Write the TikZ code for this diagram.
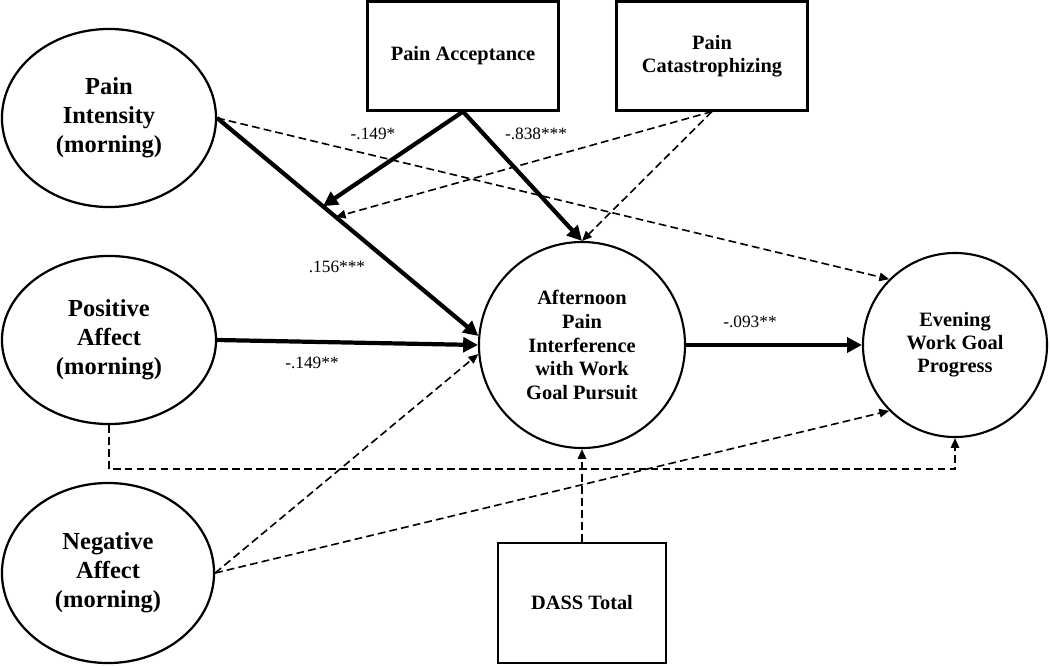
\documentclass[tikz,border=0pt]{standalone}
\usepackage{fontspec}
\setmainfont{Liberation Serif}
\usetikzlibrary{shapes.geometric,arrows.meta}

\tikzset{
  big/.style={font=\fontsize{17.4}{20.6}\selectfont\bfseries, align=center},
  mid/.style={font=\fontsize{14.5}{16.8}\selectfont\bfseries, align=center},
  oval/.style={ellipse, draw, line width=1.6pt, inner sep=0pt, minimum width=5.35cm, big},
  ring/.style={circle, draw, line width=1.5pt, inner sep=0pt, mid},
  box/.style={rectangle, draw, line width=1.5pt, inner sep=0pt, mid},
  coef/.style={font=\fontsize{12.3}{14}\selectfont, inner sep=1pt},
  strong/.style={line width=3pt, -{Triangle[length=10.5pt,width=10.5pt]}},
  weak/.style={line width=1.15pt, dash pattern=on 5.5pt off 3pt, -{Triangle[length=7pt,width=6pt]}}
}

\begin{document}
\begin{tikzpicture}[x=0.025cm, y=-0.025cm]
\useasboundingbox (0,0) rectangle (1050,665);

% predictors on the left
\node[oval, minimum height=4.45cm] (pint) at (109,118) {Pain\\Intensity\\(morning)};
\node[oval, minimum height=4.2cm] (posaff) at (109,340) {Positive\\Affect\\(morning)};
\node[oval, minimum height=4.5cm, minimum width=5.3cm] (negaff) at (108,573) {Negative\\Affect\\(morning)};

% moderators
\node[box, minimum width=4.775cm, minimum height=2.725cm] (accept) at (463,56) {Pain Acceptance};
\node[box, minimum width=4.775cm, minimum height=2.725cm] (catast) at (712,56) {Pain\\Catastrophizing};
\node[box, minimum width=4.2cm, minimum height=3cm] (dass) at (582,603) {DASS Total};

% mediator and outcome
\node[ring, minimum size=5.15cm] (interf) at (582,345) {Afternoon\\Pain\\Interference\\with Work\\Goal Pursuit};
\node[ring, minimum size=4.6cm, font=\fontsize{14.5}{16.4}\selectfont\bfseries] (progress) at (955,345) {Evening\\Work Goal\\Progress};

% main paths
\draw[strong] (pint.east) -- coordinate[pos=.405] (hitA) coordinate[pos=.454] (hitC) (interf.175);
\draw[strong] (posaff.east) -- (interf.180);
\draw[weak] (negaff.east) -- (interf.185);
\draw[strong] (interf.east) -- (progress.west);
\draw[weak] (pint.east) -- (progress.135);
\draw[weak] (negaff.east) -- (progress.225);
\draw[weak] (posaff.south) -- ++(0,44) -| (progress.south);

% moderation
\draw[strong] (accept.south) -- (hitA);
\draw[strong] (accept.south) -- (interf.north);
\draw[weak] (catast.south) -- (hitC);
\draw[weak] (catast.south) -- (interf.north);
\draw[weak] (dass.north) -- (interf.south);

% coefficients
\node[coef] (c1) at (373,134) {-.149*};
\node[coef] (c2) at (536,134) {-.838***};
\node[coef] (c3) at (337,267) {.156***};
\node[coef] (c4) at (312,363) {-.149**};
\node[coef] (c5) at (750,322) {-.093**};
\end{tikzpicture}
\end{document}
